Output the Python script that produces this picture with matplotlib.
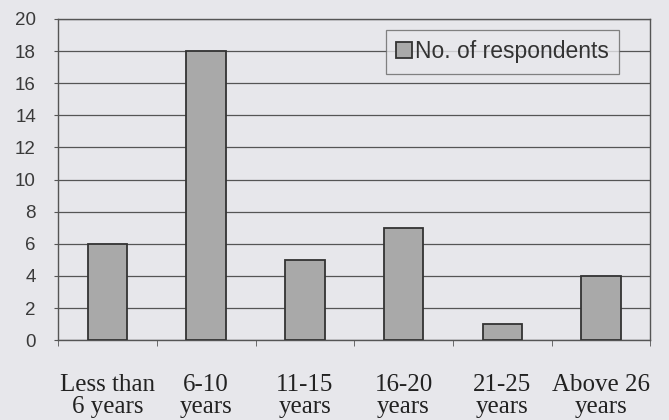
import matplotlib
matplotlib.use("Agg")
import matplotlib.pyplot as plt
import numpy as np

categories = ["Less than\n6 years", "6-10\nyears", "11-15\nyears",
              "16-20\nyears", "21-25\nyears", "Above 26\nyears"]
respondents = [6, 18, 5, 7, 1, 4]
y_ticks = [0, 2, 4, 6, 8, 10, 12, 14, 16, 18, 20]

bg = "#e7e7eb"
ink = "#3a3a3a"

fig = plt.figure(figsize=(6.69, 4.2), dpi=100, facecolor=bg)
ax = fig.add_axes([0.087, 0.19, 0.885, 0.765], facecolor=bg)

x = np.arange(len(categories))
ax.bar(x, respondents, width=0.4, color="#a9a9a9", edgecolor="#333333",
       linewidth=1.3, label="No. of respondents", zorder=3)

ax.set_xlim(-0.5, len(categories) - 0.5)
ax.set_ylim(0, 20)
ax.set_yticks(y_ticks)
ax.set_yticklabels([str(v) for v in y_ticks], fontfamily="Liberation Sans",
                   fontsize=13.5, color=ink)
ax.yaxis.grid(True, color="#555555", linewidth=0.9, zorder=0)
ax.tick_params(axis="y", length=3, color="#555555", pad=13)

ax.set_xticks(x)
ax.set_xticklabels(categories, fontfamily="Liberation Serif", fontsize=18,
                   color="#222222", linespacing=1.0)
ax.set_xticks(np.arange(-0.5, len(categories)), minor=True)
ax.tick_params(axis="x", which="major", length=0, pad=24)
ax.tick_params(axis="x", which="minor", length=4, color="#555555")

for side in ax.spines.values():
    side.set_color("#555555")
    side.set_linewidth(1.0)

leg = ax.legend(loc="upper right", bbox_to_anchor=(0.948, 0.965),
                prop={"family": "Liberation Sans", "size": 16.5},
                frameon=True, fancybox=False, handlelength=0.7,
                handleheight=0.7, handletextpad=0.15, borderpad=0.45,
                borderaxespad=0)
leg.get_frame().set_edgecolor("#666666")
leg.get_frame().set_facecolor(bg)
leg.get_frame().set_linewidth(0.9)
for t in leg.get_texts():
    t.set_color("#333333")

fig.savefig("out.png", dpi=100, facecolor=bg)
